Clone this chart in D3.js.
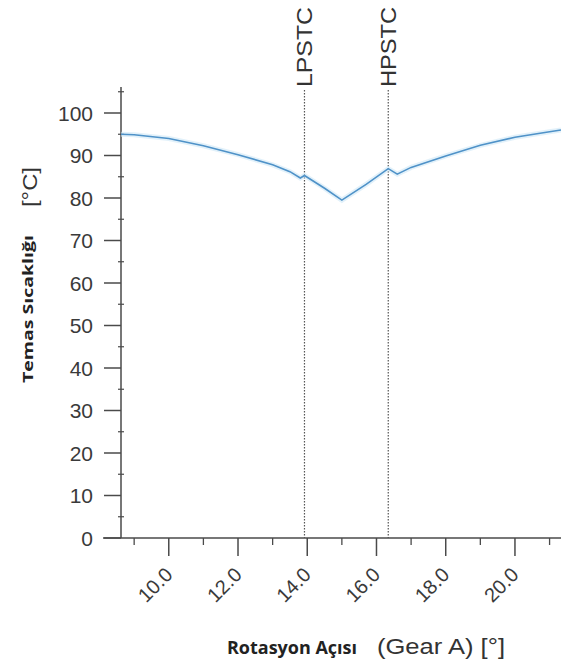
<!DOCTYPE html>
<html><head><meta charset="utf-8">
<script src="https://cdn.jsdelivr.net/npm/d3@7"></script>
<style>body{margin:0;background:#fff}svg{display:block}</style>
</head><body>
<svg id="c" width="561" height="665"></svg>
<script>
const angle = [8.62, 9.0, 10.0, 11.0, 12.0, 13.0, 13.5, 13.8, 13.92, 14.5, 15.0, 15.7, 16.34, 16.6, 17.0, 18.0, 19.0, 20.0, 21.0, 21.33];
const temp  = [95.0, 94.9, 94.0, 92.3, 90.2, 87.8, 86.2, 84.7, 85.3, 82.3, 79.5, 83.2, 86.9, 85.6, 87.2, 89.9, 92.4, 94.3, 95.6, 96.0];
const markers = ["LPSTC", "HPSTC"];
const markerPos = [13.92, 16.34];
const yTicks = [0, 10, 20, 30, 40, 50, 60, 70, 80, 90, 100];
const xTicks = [10, 12, 14, 16, 18, 20];

const svg = d3.select("#c");
const x = d3.scaleLinear().domain([8.62, 21.33]).range([121, 561]);
const y = d3.scaleLinear().domain([0, 100]).range([538, 113]);
const axisColor = "#4a4a4a";
const font = "Liberation Sans, Arial, sans-serif";

// y axis
const gy = svg.append("g").attr("transform", "translate(121,0)");
gy.append("line").attr("x1", 0).attr("x2", 0).attr("y1", 87).attr("y2", y(0)).attr("stroke", axisColor).attr("stroke-width", 1.5);
gy.selectAll(".maj").data(yTicks).enter().append("line")
  .attr("x1", -17).attr("x2", 0).attr("y1", d => y(d)).attr("y2", d => y(d))
  .attr("stroke", axisColor).attr("stroke-width", 1.5);
gy.selectAll(".min").data(d3.range(5, 106, 10)).enter().append("line")
  .attr("x1", -3).attr("x2", 3).attr("y1", d => y(d)).attr("y2", d => y(d))
  .attr("stroke", axisColor).attr("stroke-width", 1.2);
gy.selectAll(".lbl").data(yTicks).enter().append("text")
  .attr("x", -28).attr("y", d => y(d)).attr("dy", "0.36em")
  .attr("text-anchor", "end").attr("font-family", font)
  .attr("font-size", 21).attr("fill", "#3a3a3a").text(d => d);

// x axis
svg.append("line").attr("x1", 103).attr("x2", 561).attr("y1", y(0)).attr("y2", y(0))
  .attr("stroke", axisColor).attr("stroke-width", 1.5);
const gx = svg.append("g");
gx.selectAll(".maj").data(xTicks).enter().append("line")
  .attr("x1", d => x(d)).attr("x2", d => x(d)).attr("y1", y(0)).attr("y2", y(0) + 18)
  .attr("stroke", axisColor).attr("stroke-width", 1.5);
gx.selectAll(".min").data([9, 11, 13, 15, 17, 19, 21]).enter().append("line")
  .attr("x1", d => x(d)).attr("x2", d => x(d)).attr("y1", y(0)).attr("y2", y(0) + 7)
  .attr("stroke", axisColor).attr("stroke-width", 1.3);
gx.selectAll(".lbl").data(xTicks).enter().append("text")
  .attr("transform", d => `translate(${x(d) + 5},${y(0) + 38}) rotate(-45)`)
  .attr("text-anchor", "end").attr("font-family", font)
  .attr("font-size", 20).attr("fill", "#3a3a3a").text(d => d.toFixed(1));

// marker lines
markers.forEach((m, i) => {
  const mx = x(markerPos[i]);
  svg.append("line").attr("x1", mx).attr("x2", mx).attr("y1", 90).attr("y2", y(0))
    .attr("stroke", "#555").attr("stroke-width", 1.2).attr("stroke-dasharray", "1.5,1.5");
  svg.append("text").attr("transform", `translate(${mx + 8},87) rotate(-90)`)
    .attr("font-family", font).attr("font-size", 22)
    .attr("textLength", 80).attr("lengthAdjust", "spacingAndGlyphs")
    .attr("fill", "#333").text(m);
});

// curve
const line = d3.line().x((d, i) => x(angle[i])).y(d => y(d));
svg.append("path").datum(temp).attr("d", line).attr("fill", "none")
  .attr("stroke", "#cfe7f7").attr("stroke-width", 5).attr("opacity", 0.6);
svg.append("path").datum(temp).attr("d", line).attr("fill", "none")
  .attr("stroke", "#4f92c8").attr("stroke-width", 1.6);

// y titles
svg.append("text").attr("transform", "translate(33,309) rotate(-90)")
  .attr("text-anchor", "middle").attr("font-family", "Open Sans, sans-serif")
  .attr("font-weight", "bold").attr("font-size", 15).attr("fill", "#222")
  .attr("textLength", 148).attr("lengthAdjust", "spacingAndGlyphs")
  .text("Temas Sıcaklığı");
svg.append("text").attr("transform", "translate(37,187) rotate(-90)")
  .attr("text-anchor", "middle").attr("font-family", font)
  .attr("font-size", 20).attr("fill", "#333")
  .attr("textLength", 40).attr("lengthAdjust", "spacingAndGlyphs").text("[°C]");

// x title
svg.append("text").attr("x", 227).attr("y", 654)
  .attr("font-family", "Open Sans, sans-serif").attr("font-weight", "bold")
  .attr("font-size", 18).attr("fill", "#222")
  .attr("textLength", 130).attr("lengthAdjust", "spacingAndGlyphs")
  .text("Rotasyon Açısı");
svg.append("text").attr("x", 377).attr("y", 654)
  .attr("font-family", font).attr("font-size", 22).attr("fill", "#333")
  .attr("textLength", 128).attr("lengthAdjust", "spacingAndGlyphs")
  .text("(Gear A) [°]");
</script>
</body></html>
